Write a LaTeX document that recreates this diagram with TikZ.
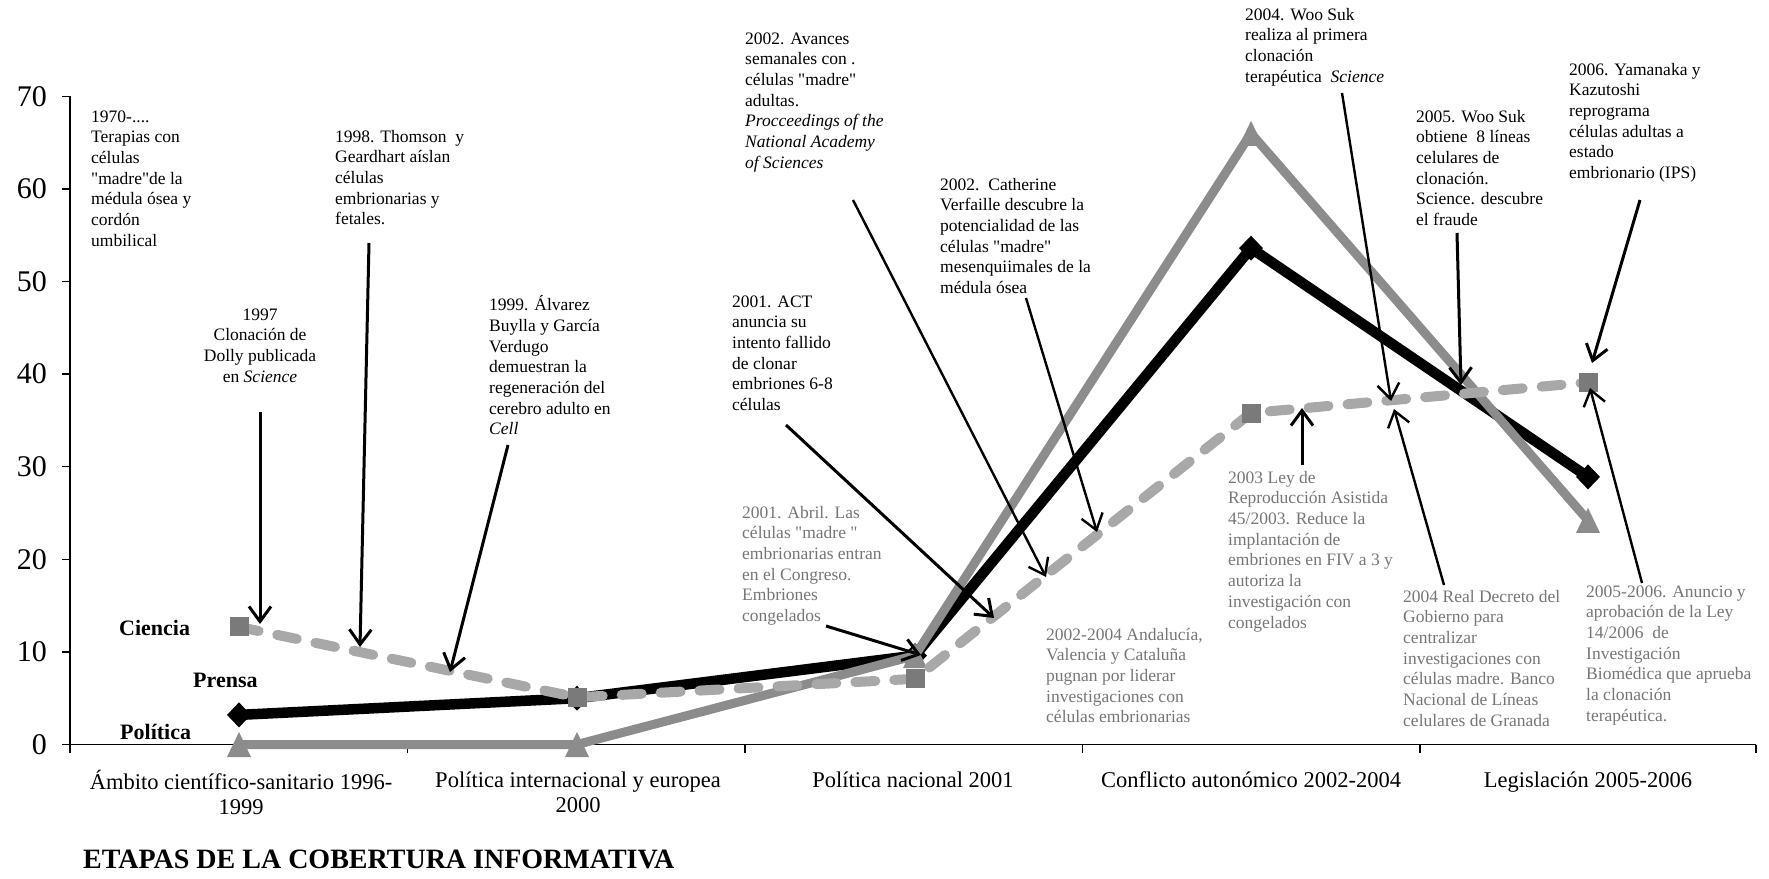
\documentclass[tikz,border=0pt]{standalone}
\usepackage{fontspec}
\setmainfont{Liberation Serif}[Ligatures=TeXOff]
\usetikzlibrary{arrows.meta}
\definecolor{polgray}{RGB}{140,140,140}
\definecolor{ciedash}{RGB}{168,168,168}
\definecolor{ciesq}{RGB}{122,122,122}
\definecolor{notegray}{RGB}{118,118,118}

\begin{document}
\begin{tikzpicture}[x=1pt,y=-1pt,
  note/.style={anchor=north west, align=left, inner sep=0pt, font=\fontsize{17.5}{20.7}\selectfont},
  notegrey/.style={note, text=notegray},
  catlabel/.style={anchor=north, align=center, inner sep=0pt, font=\fontsize{22.5}{25}\selectfont},
  ylab/.style={anchor=east, inner sep=0pt, font=\fontsize{30}{34}\selectfont},
  serieslab/.style={anchor=base west, inner sep=0pt, font=\fontsize{22}{26}\selectfont\bfseries},
  callout/.style={line width=3pt, -{Straight Barb[length=15pt,width=22pt]}},
  thincallout/.style={callout, line width=2.4pt},
  prensaline/.style={black, line width=10.5pt, line join=round},
  politicaline/.style={polgray, line width=9pt, line join=round},
  cienline/.style={ciedash, line width=10pt, line cap=round, dash pattern=on 20pt off 19pt},
]
\useasboundingbox (0,0) rectangle (1769,878);

% ---------- axes ----------
\draw[line width=2pt] (70,96.3) -- (70,753);
\draw[line width=1.5pt] (62,744.5) -- (1756,744.5);
\foreach \v in {0,10,...,70} {
  \draw[line width=1.5pt] (62,{744.5-9.26*\v}) -- (70,{744.5-9.26*\v});
  \node[ylab] (y\v) at (47,{744.5-9.26*\v}) {\v};
}
\foreach \x in {70,407.5,745,1082.5,1420,1756}
  \draw[line width=1.5pt] (\x,744.5) -- (\x,753);

% ---------- category labels ----------
\node[catlabel] (cat1) at (241,770) {\strut Ámbito científico-sanitario 1996-\\1999};
\node[catlabel] (cat2) at (578,770) {\strut Política internacional y europea\\2000};
\node[catlabel] (cat3) at (913,770) {\strut Política nacional 2001};
\node[catlabel] (cat4) at (1251,770) {\strut Conflicto autonómico 2002-2004};
\node[catlabel] (cat5) at (1588,770) {\strut Legislación 2005-2006};
\node[anchor=base west, inner sep=0pt, font=\fontsize{28}{32}\selectfont\bfseries] (title) at (83,868)
  {ETAPAS DE LA COBERTURA INFORMATIVA};

% ---------- series labels ----------
\node[serieslab] (labC) at (119,635) {Ciencia};
\node[serieslab] (labPr) at (193,687) {Prensa};
\node[serieslab] (labPo) at (120,739) {Política};

% ---------- data points ----------
\coordinate (pre1) at (239,714.9);  \coordinate (pre2) at (577,698.2);
\coordinate (pre3) at (915,655.6);  \coordinate (pre4) at (1251,248.2);
\coordinate (pre5) at (1588,476.9);
\coordinate (pol1) at (239,744.5);  \coordinate (pol2) at (577,744.5);
\coordinate (pol3) at (915,655.6);  \coordinate (pol4) at (1251,133.3);
\coordinate (pol5) at (1588,520.4);
\coordinate (cie1) at (239,626.9);  \coordinate (cie2) at (577,697.3);
\coordinate (cie3) at (915,678.8);  \coordinate (cie4) at (1251,413);
\coordinate (cie5) at (1588,382.4);

% Prensa: black line, diamonds
\draw[prensaline] (pre1) -- (pre2) -- (pre3) -- (pre4) -- (pre5);
\foreach \p in {pre1,pre2,pre3,pre4,pre5}
  \fill[black] (\p) ++(0,-12.5) -- ++(12,12.5) -- ++(-12,12.5) -- ++(-12,-12.5) -- cycle;

% Politica: grey line, triangles
\draw[politicaline] (pol1) -- (pol2) -- (pol3) -- (pol4) -- (pol5);
\foreach \p in {pol1,pol2,pol3,pol4,pol5}
  \fill[polgray] (\p) ++(0,-12.5) -- ++(12,25) -- ++(-24,0) -- cycle;

% Ciencia: dashed light grey line, squares
\draw[cienline] (cie1) -- (cie2) -- (cie3) -- (cie4) -- (cie5);
\foreach \p in {cie1,cie2,cie3,cie4,cie5}
  \fill[ciesq] (\p) ++(-9.5,-9.5) rectangle ++(19,19);

% ---------- scientific events (black) ----------
\node[note] (n1970) at (91,107.5) {\strut 1970-....\\Terapias con\\células\\"madre"de la\\médula ósea y\\cordón\\umbilical};
\node[note, anchor=north, align=center] (n1997) at (260,305.5) {\strut 1997\\Clonación de\\Dolly publicada\\en \textit{Science}};
\node[note] (n1998) at (335,127.5) {\strut 1998. Thomson\ \ y\\Geardhart aíslan\\células\\embrionarias y\\fetales.};
\node[note] (n1999) at (489,295.5) {\strut 1999. Álvarez\\Buylla y García\\Verdugo\\demuestran la\\regeneración del\\cerebro adulto en\\\textit{Cell}};
\node[note] (nACT) at (732,292.5) {\strut 2001. ACT\\anuncia su\\intento fallido\\de clonar\\embriones 6-8\\células};
\node[note] (nAvances) at (745,29.5) {\strut 2002. Avances\\semanales con .\\células "madre"\\adultas.\\\textit{Procceedings of the}\\\textit{National Academy}\\\textit{of Sciences}};
\node[note] (nVerfaille) at (940,175.5) {\strut 2002.\ \ Catherine\\Verfaille descubre la\\potencialidad de las\\células "madre"\\mesenquiimales de la\\médula ósea};
\node[note] (nWoo04) at (1245,5.5) {\strut 2004. Woo Suk\\realiza al primera\\clonación\\terapéutica\ \ \textit{Science}};
\node[note] (nWoo05) at (1416,107.5) {\strut 2005. Woo Suk\\obtiene\ \ 8 líneas\\celulares de\\clonación.\\Science. descubre\\el fraude};
\node[note] (nYama) at (1569,60.5) {\strut 2006. Yamanaka y\\Kazutoshi\\reprograma\\células adultas a\\estado\\embrionario (IPS)};

% ---------- political events (grey) ----------
\node[notegrey] (nAbril) at (742,503.5) {\strut 2001. Abril. Las\\células "madre "\\embrionarias entran\\en el Congreso.\\Embriones\\congelados};
\node[notegrey] (nAutonom) at (1046,625.5) {\strut 2002-2004 Andalucía,\\Valencia y Cataluña\\pugnan por liderar\\investigaciones con\\células embrionarias};
\node[notegrey] (nLey03) at (1228,468.5) {\strut 2003 Ley de\\Reproducción Asistida\\45/2003. Reduce la\\implantación de\\embriones en FIV a 3 y\\autoriza la\\investigación con\\congelados};
\node[notegrey] (nDecreto) at (1403,587.5) {\strut 2004 Real Decreto del\\Gobierno para\\centralizar\\investigaciones con\\células madre. Banco\\Nacional de Líneas\\celulares de Granada};
\node[notegrey] (nLey06) at (1586,582.5) {\strut 2005-2006. Anuncio y\\aprobación de la Ley\\14/2006\ \ de\\Investigación\\Biomédica que aprueba\\la clonación\\terapéutica.};

% ---------- callout ends ----------
\coordinate (s1997) at (260,412);   \coordinate (t1997) at (260,624);
\coordinate (s1998) at (369,243);   \coordinate (t1998) at (360,647);
\coordinate (s1999) at (508,445);   \coordinate (t1999) at (450,672);
\coordinate (sACT) at (786,425);    \coordinate (tACT) at (994,618);
\coordinate (sAva) at (853,200);    \coordinate (tAva) at (1046,577);
\coordinate (sVer) at (1026,298);   \coordinate (tVer) at (1097,532);
\coordinate (sAbr) at (826,626);    \coordinate (tAbr) at (921,655);
\coordinate (sW04) at (1342,93);    \coordinate (tW04) at (1391,401);
\coordinate (sW05) at (1457,233);   \coordinate (tW05) at (1461,385);
\coordinate (sYam) at (1640,200);   \coordinate (tYam) at (1592,363);
\coordinate (sL03) at (1302,465);   \coordinate (tL03) at (1302,408);
\coordinate (sDec) at (1444,585);   \coordinate (tDec) at (1394,409);
\coordinate (sL06) at (1642,583);   \coordinate (tL06) at (1590,388);

\draw[callout] (s1997) -- (t1997);
\draw[callout] (s1998) -- (t1998);
\draw[callout] (s1999) -- (t1999);
\draw[callout] (sACT) -- (tACT);
\draw[thincallout] (sAva) -- (tAva);
\draw[thincallout] (sVer) -- (tVer);
\draw[callout] (sAbr) -- (tAbr);
\draw[thincallout] (sW04) -- (tW04);
\draw[callout] (sW05) -- (tW05);
\draw[callout] (sYam) -- (tYam);
\draw[callout] (sL03) -- (tL03);
\draw[thincallout] (sDec) -- (tDec);
\draw[thincallout] (sL06) -- (tL06);
\end{tikzpicture}
\end{document}
